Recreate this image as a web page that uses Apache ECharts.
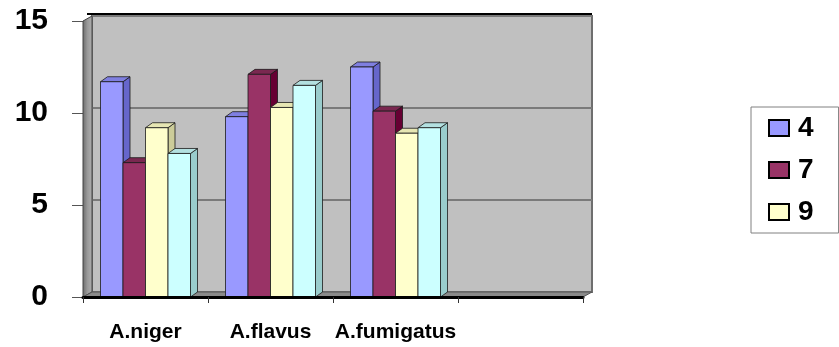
<!DOCTYPE html>
<html>
<head>
<meta charset="utf-8">
<script src="https://cdn.jsdelivr.net/npm/echarts@6/dist/echarts.min.js"></script>
<style>
  html, body { margin: 0; padding: 0; background: #fff; }
  #chart { width: 839px; height: 347px; }
</style>
</head>
<body>
<div id="chart"></div>
<script>
// du lieu doc tu hinh
var categories = ['A.niger', 'A.flavus', 'A.fumigatus', ''];
var seriesNames = ['4', '7', '9', '12'];
var s4 = [11.7, 9.8, 12.5, null];
var s7 = [7.3, 12.1, 10.1, null];
var s9 = [9.2, 10.3, 8.9, null];
var s12 = [7.8, 11.5, 9.2, null];
var yTicks = [0, 5, 10, 15];

var allValues = [s4, s7, s9, s12];
var faceColors = ['#9999FF', '#993366', '#FFFFCC', '#CCFFFF'];
var sideColors = ['#6666CC', '#660033', '#CCCC99', '#99CCCC'];
var topColors = ['#7F7FE0', '#7A2850', '#E6E6B3', '#B3E0E0'];

// khung 3D
var FL = 83, FT = 21, FB = 297, FR = 583;  // mat truoc
var DX = 9, DY = 5;                        // do sau tuong
var BDX = 7, BDY = 5;                      // do sau cot

var chart = echarts.init(document.getElementById('chart'));

function makeRender(idx) {
    return function (params, api) {
        var cat = api.value(0), val = api.value(1);
        if (val == null || isNaN(val)) return;
        var base = api.coord([cat, 0]);
        var top = api.coord([cat, val]);
        var band = api.size([1, 0])[0];
        var w = band * 0.18;
        var x0 = base[0] - 2 * w + idx * w;
        var x1 = x0 + w;
        var stroke = { stroke: '#1a1a1a', lineWidth: 0.8 };
        return {
            type: 'group',
            children: [
                {
                    type: 'polygon',
                    shape: { points: [[x1, top[1]], [x1 + BDX, top[1] - BDY], [x1 + BDX, base[1] - BDY], [x1, base[1]]] },
                    style: Object.assign({ fill: sideColors[idx] }, stroke)
                },
                {
                    type: 'polygon',
                    shape: { points: [[x0, top[1]], [x0 + BDX, top[1] - BDY], [x1 + BDX, top[1] - BDY], [x1, top[1]]] },
                    style: Object.assign({ fill: topColors[idx] }, stroke)
                },
                {
                    type: 'rect',
                    shape: { x: x0, y: top[1], width: w, height: base[1] - top[1] },
                    style: Object.assign({ fill: faceColors[idx] }, stroke)
                }
            ]
        };
    };
}

var series = allValues.map(function (vals, i) {
    return {
        name: seriesNames[i],
        type: 'custom',
        xAxisIndex: 0,
        yAxisIndex: 0,
        renderItem: makeRender(i),
        itemStyle: { color: faceColors[i] },
        encode: { x: 0, y: 1 },
        data: vals.map(function (v, j) { return [j, v]; }),
        z: 3
    };
});

var option = {
    backgroundColor: '#fff',
    animation: false,
    textStyle: { fontFamily: 'Liberation Sans, Arial, sans-serif' },
    grid: [
        // mat truoc
        { left: FL, right: 839 - FR, top: FT, bottom: 347 - FB },
        // tuong sau
        {
            left: FL + DX, right: 839 - FR - DX, top: FT - DY, bottom: 347 - FB + DY,
            show: true, backgroundColor: '#C0C0C0', borderColor: '#6e6e6e', borderWidth: 2, z: 0
        }
    ],
    xAxis: [
        {
            type: 'category', gridIndex: 0, data: categories, boundaryGap: true,
            axisLine: { show: true, lineStyle: { color: '#000', width: 3 } },
            axisTick: { show: true, length: 6, lineStyle: { color: '#333', width: 1 } },
            axisLabel: { margin: 25, color: '#000', fontWeight: 'bold', fontSize: 21, fontFamily: 'Liberation Sans, Arial', interval: 0 },
            z: 4
        },
        { type: 'category', gridIndex: 1, data: categories, show: false }
    ],
    yAxis: [
        {
            type: 'value', gridIndex: 0, min: 0, max: 15, interval: 5,
            axisLine: { show: false },
            axisTick: { show: true, inside: false, length: 11, lineStyle: { color: '#555' } },
            splitLine: { show: false },
            axisLabel: {
                margin: 35, color: '#000', fontWeight: 'bold', fontSize: 30, fontFamily: 'Liberation Sans, Arial',
                formatter: function (v) { return yTicks.indexOf(v) >= 0 ? String(v) : ''; }
            }
        },
        {
            type: 'value', gridIndex: 1, min: 0, max: 15, interval: 5,
            axisLine: { show: false }, axisTick: { show: false }, axisLabel: { show: false },
            splitLine: { show: true, lineStyle: { color: '#7a7a7a', width: 2 } }
        }
    ],
    legend: {
        data: ['4', '7', '9'],
        orient: 'vertical',
        left: 751, top: 107,
        padding: [7, 25, 7, 17],
        itemGap: 14,
        itemWidth: 20, itemHeight: 16,
        icon: 'rect',
        itemStyle: { borderColor: '#000', borderWidth: 2 },
        backgroundColor: '#fff',
        borderColor: '#808080', borderWidth: 1,
        textStyle: { fontSize: 28, fontWeight: 'bold', color: '#000', lineHeight: 28, fontFamily: 'Liberation Sans, Arial', padding: [0, 0, 0, 4] }
    },
    graphic: [
        {
            // tuong trai
            type: 'polygon', z: 1,
            shape: { points: [[FL, FT], [FL + DX, FT - DY], [FL + DX, FB - DY], [FL, FB]] },
            style: {
                fill: new echarts.graphic.LinearGradient(0, 0, 1, 0, [
                    { offset: 0, color: '#6a6a6a' }, { offset: 0.5, color: '#9a9a9a' }, { offset: 1, color: '#b0b0b0' }
                ]),
                stroke: '#444', lineWidth: 1
            }
        },
        {
            // san
            type: 'polygon', z: 1,
            shape: { points: [[FL, FB], [FL + DX, FB - DY], [FR + DX, FB - DY], [FR, FB]] },
            style: { fill: '#8a8a8a', stroke: '#555', lineWidth: 1 }
        },
        {
            // canh tren tuong sau
            type: 'line', z: 1,
            shape: { x1: FL + 4, y1: FT - DY - 2, x2: FR + DX, y2: FT - DY - 2 },
            style: { stroke: '#000', lineWidth: 2 }
        }
    ],
    series: series
};

chart.setOption(option);
</script>
</body>
</html>
